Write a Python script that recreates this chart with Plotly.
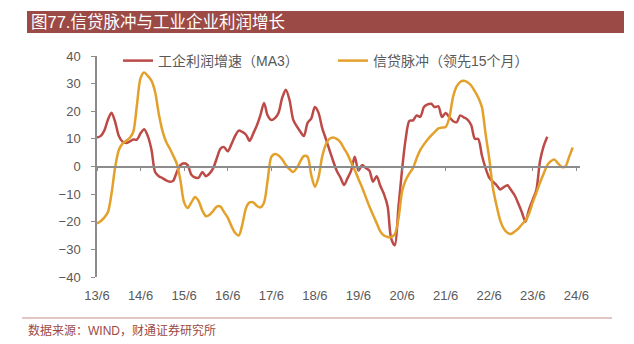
import pandas as pd
import plotly.graph_objects as go

# ---- data (monthly, starting 2013-06) ----
profit_ma3 = [10.5, 11, 13, 17, 19.5, 16, 11, 9, 8.5, 9, 9.8, 9.7, 12, 13.5, 11, 6, -2, -3.5, -4.2, -5,
              -5.5, -5.2, -2, 0.5, 1.2, 0.5, -3, -4, -4, -2, -3.5, -2.5, -0.5, 3, 6.5, 7, 5.5, 8, 11, 13,
              12.5, 11.5, 9.3, 12, 15, 18.5, 23, 18.5, 16.8, 17.5, 19.5, 25, 27.8, 24, 17, 14.5, 12.5, 11, 15.8, 17.3,
              21.5, 19.5, 14, 10, 6, 2, -1.5, -4, -6.7, -4.3, -1.5, 3.5, -1.5, 0.5, -0.5, -1.5, -5.5, -3.5, -7, -10,
              -14.5, -26, -28.5, -15, -1, 10, 16.5, 16.7, 18.5, 18, 21.5, 22.5, 22.7, 21.5, 21.8, 17.9, 19.4, 17.9, 16.5, 16,
              18.5, 17.8, 17, 15, 10, 10, 4, -0.5, -4, -5.5, -6.7, -8.3, -7.5, -6.8, -8.5, -10.5, -13.5, -16.5, -20, -15.5,
              -12, -8.5, 2, 7.5, 10.8]
credit_impulse = [-20.6, -19.8, -18.5, -16.5, -9.7, 0, 6, 8.3, 9.3, 10.3, 12.5, 22, 32, 34, 32.8, 31, 27, 19, 13, 9,
                  6.5, 4, 1, -5, -13, -15, -13, -11, -12.5, -16, -18, -17.5, -16, -14.5, -14.5, -16.5, -18.5, -21.5, -24, -25,
                  -21, -15, -13, -13, -14.3, -14.8, -13, -5, 3.5, 4.5, 4, 2.5, 0.5, -1, -2, -0.5, 2, 3.8, 3.5, -3,
                  -7.3, -4, 3.5, 8, 10, 10.5, 10, 8.8, 6.5, 4.5, 1.5, -1.3, -4.5, -7.5, -11, -14.5, -17.5, -20.5, -23.5, -25,
                  -25.5, -25.6, -24.5, -19, -9, -5, -2.5, -0.5, 3, 6, 8, 9.8, 11.3, 12.5, 13.8, 14.1, 14.3, 17.5, 25, 29,
                  30.6, 31, 30.5, 29.3, 27.2, 25, 21.5, 12, 3, -7.5, -14, -19.5, -22.5, -24, -24.4, -23.5, -22.5, -21, -19.5, -17,
                  -13, -9.5, -5.8, -2.5, 0.5, 2, 2.5, 1, -0.2, 0, 3.5, 6.9]
start_month = "2013-06-01"
tick_dates = [f"{y}-06-01" for y in range(2013, 2025)]
tick_labels = [f"{y % 100}/6" for y in range(2013, 2025)]
x_range = ["2013-06-01", "2024-07-01"]
y_ticks = list(range(-40, 41, 10))

name_profit = "工企利润增速（MA3）"
name_credit = "信贷脉冲（领先15个月）"
title_text = "图77.信贷脉冲与工业企业利润增长"
source_text = "数据来源：WIND，财通证券研究所"

RED = "#BC4B47"
GOLD = "#E3A02A"
GRAY = "#8C8C8C"
TXT = "#595959"
BAR = "#9C4A45"
FONT = "Liberation Sans, Noto Sans CJK SC, sans-serif"

dates_p = pd.date_range(start_month, periods=len(profit_ma3), freq="MS")
dates_c = pd.date_range(start_month, periods=len(credit_impulse), freq="MS")

fig = go.Figure()
fig.add_trace(go.Scatter(x=dates_p, y=profit_ma3, name=name_profit, mode="lines",
                         line=dict(color=RED, width=2.5, shape="spline", smoothing=0.8)))
fig.add_trace(go.Scatter(x=dates_c, y=credit_impulse, name=name_credit, mode="lines",
                         line=dict(color=GOLD, width=2.5, shape="spline", smoothing=0.8)))
# helper trace so the zero-line axis (x2) is drawn
fig.add_trace(go.Scatter(x=dates_c, y=credit_impulse, xaxis="x2", mode="lines", opacity=0,
                         showlegend=False, hoverinfo="skip", line=dict(width=0)))

W, H = 634, 344
L, R, T, B = 97, 54, 56, 67
pw, ph = W - L - R, H - T - B


def px_x(p):
    return (p - L) / pw


def px_y(p):
    return (H - B - p) / ph


fig.update_layout(
    width=W, height=H,
    margin=dict(l=L, r=R, t=T, b=B, pad=0),
    paper_bgcolor="white", plot_bgcolor="white",
    font=dict(family=FONT, size=13, color=TXT),
    showlegend=True,
    legend=dict(orientation="h", x=px_x(118), y=px_y(61), xanchor="left", yanchor="middle",
                font=dict(size=14, color=TXT), bgcolor="rgba(0,0,0,0)",
                entrywidth=170, entrywidthmode="pixels", itemwidth=30),
    xaxis=dict(type="date", range=x_range, tickvals=tick_dates, ticktext=tick_labels,
               showline=False, ticks="", showgrid=False, zeroline=False,
               tickfont=dict(size=13, color=TXT), ticklabelstandoff=9),
    xaxis2=dict(type="date", range=x_range, overlaying="x", anchor="free", position=0.5,
                tickvals=tick_dates, showticklabels=False, showline=True, linecolor=GRAY,
                linewidth=1.5, ticks="outside", ticklen=4, tickcolor=GRAY, showgrid=False, zeroline=False),
    yaxis=dict(range=[-40, 40], tickvals=y_ticks, showline=True, linecolor=GRAY, linewidth=1.5,
               ticks="outside", ticklen=4, tickcolor=GRAY, showgrid=False, zeroline=False,
               tickfont=dict(size=13, color=TXT), ticklabelstandoff=8),
)

# title bar
fig.add_shape(type="rect", xref="paper", yref="paper", x0=px_x(27), x1=px_x(624), y0=px_y(33), y1=px_y(11),
              fillcolor=BAR, line=dict(width=0), layer="below")
fig.add_annotation(xref="paper", yref="paper", x=px_x(29), y=px_y(22), xanchor="left", yanchor="middle",
                   text=title_text, showarrow=False, font=dict(size=16.5, color="white", family=FONT))
# footer
fig.add_shape(type="line", xref="paper", yref="paper", x0=px_x(22), x1=px_x(612), y0=px_y(318), y1=px_y(318),
              line=dict(color="#C98E8A", width=1))
fig.add_annotation(xref="paper", yref="paper", x=px_x(26), y=px_y(330), xanchor="left", yanchor="middle",
                   text=source_text, showarrow=False, font=dict(size=12, color=BAR, family=FONT))

fig.write_html("out.html")
